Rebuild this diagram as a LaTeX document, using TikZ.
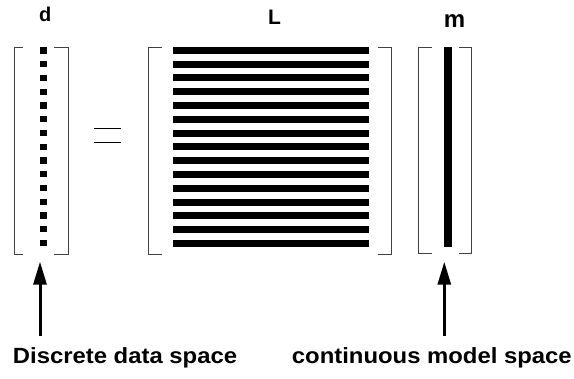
\documentclass[tikz,border=0pt]{standalone}
\usepackage{fontspec}
\setmainfont{Liberation Sans}
\newfontfamily\labfont[FakeStretch=1.085]{Liberation Sans}
\usetikzlibrary{arrows.meta}
\tikzset{
  brack/.style={draw=black!75, line width=0.9pt},
  dotbox/.style={fill=black},
  barbox/.style={fill=black},
  eqline/.style={draw=black, line width=0.9pt},
  uparrow/.style={draw=black, line width=3pt, -{Triangle[length=23pt,width=13pt]}},
  veclabel/.style={inner sep=0pt, anchor=base, font=\bfseries},
  spacelabel/.style={inner sep=0pt, anchor=base west, font=\labfont\bfseries\fontsize{22}{26}\selectfont},
}
\begin{document}
\begin{tikzpicture}[x=1pt,y=-1pt]
\useasboundingbox (0,0) rectangle (574,379);
% labels
\node[veclabel, font=\bfseries\fontsize{20}{24}\selectfont] (dl) at (45.3,21.3) {d};
\node[veclabel, font=\bfseries\fontsize{21}{24}\selectfont] (Ll) at (274.5,24.7) {L};
\node[veclabel, font=\bfseries\fontsize{24}{28}\selectfont] (ml) at (454.5,28) {m};
% d brackets
\draw[brack] (22.7,47.3) -- (14,47.3) -- (14,254) -- (22.7,254);
\draw[brack] (54.3,47.3) -- (68,47.3) -- (68,254) -- (54.3,254);
% d dots
\foreach \i in {0,...,14}{
  \fill[dotbox] (40.3,{47.3+13.76*\i}) rectangle (46.7,{53.6+13.76*\i});
}
% equals
\draw[eqline] (94,128.3) -- (120.7,128.3);
\draw[eqline] (94,142.3) -- (120.7,142.3);
% L brackets
\draw[brack] (162.3,47.3) -- (148.3,47.3) -- (148.3,254) -- (162.3,254);
\draw[brack] (378,47.3) -- (391,47.3) -- (391,254) -- (378,254);
% L bars
\foreach \i in {0,...,14}{
  \fill[barbox] (172.7,{46.9+13.8*\i}) rectangle (369.3,{53.8+13.8*\i});
}
% m brackets
\draw[brack] (431.7,47.3) -- (418.3,47.3) -- (418.3,253.3) -- (431.7,253.3);
\draw[brack] (459.3,47.3) -- (471.7,47.3) -- (471.7,253.3) -- (459.3,253.3);
% m bar
\fill[barbox] (444,47.3) rectangle (452.3,247);
% bottom labels
\node[spacelabel] (dsp) at (12.7,363.3) {Discrete data space};
\node[spacelabel] (msp) at (291.7,363.3) {continuous model space};
% arrows
\coordinate (a1s) at (40,336);
\coordinate (a1e) at (40,261.7);
\coordinate (a2s) at (444.3,336);
\coordinate (a2e) at (444.3,261.7);
\draw[uparrow] (a1s) -- (a1e);
\draw[uparrow] (a2s) -- (a2e);
\end{tikzpicture}
\end{document}
